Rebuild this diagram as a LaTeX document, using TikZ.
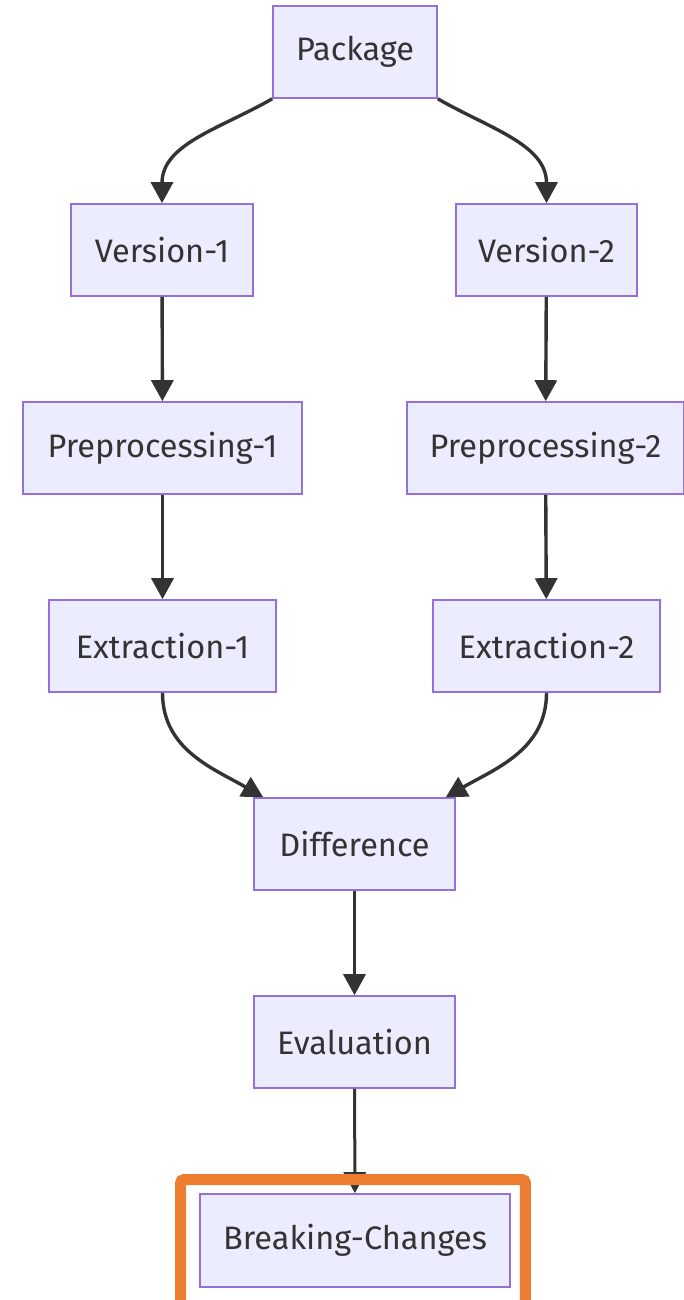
\documentclass[tikz,border=0pt]{standalone}
\usepackage{fontspec}
\setmainfont{Fira Sans}
\usetikzlibrary{arrows.meta}
\definecolor{boxfill}{HTML}{ECECFF}
\definecolor{boxline}{HTML}{9370DB}
\definecolor{ink}{HTML}{333333}
\definecolor{hilite}{HTML}{ED7D31}
\tikzset{
  stage/.style={draw=boxline, fill=boxfill, line width=1.6pt, text=ink,
    minimum height=92pt, inner sep=0pt, font=\fontsize{32.5}{36}\selectfont},
  flow/.style={draw=ink, line width=3.4pt, -{Triangle[length=21pt,width=22pt]}},
}
\begin{document}
\begin{tikzpicture}[x=1pt,y=-1pt]
\useasboundingbox (0,0) rectangle (684,1300);
\node[stage, minimum width=164pt] (pkg) at (355,52) {Package};
\node[stage, minimum width=182pt] (v1) at (162,250) {Version-1};
\node[stage, minimum width=181pt] (v2) at (546.5,250) {Version-2};
\node[stage, minimum width=279pt] (pre1) at (162.5,448) {Preprocessing-1};
\node[stage, minimum width=277pt] (pre2) at (545.5,448) {Preprocessing-2};
\node[stage, minimum width=227pt] (ex1) at (162.5,646) {Extraction-1};
\node[stage, minimum width=227pt] (ex2) at (546.5,646) {Extraction-2};
\node[stage, minimum width=201pt] (diff) at (354.5,844) {Difference};
\node[stage, minimum width=201pt] (eval) at (354.5,1042) {Evaluation};
\node[stage, minimum width=310pt, minimum height=93pt] (bc) at (355,1240.5) {Breaking-Changes};

\draw[flow] (pkg.south west) to[out=-150, in=90] (v1.north);
\draw[flow] (pkg.south east) to[out=-30, in=90] (v2.north);
\draw[flow] (v1) -- (pre1);
\draw[flow] (v2) -- (pre2);
\draw[flow] (pre1) -- (ex1);
\draw[flow] (pre2) -- (ex2);
\draw[flow] (ex1.south) to[out=-90, in=150] ([xshift=10pt]diff.north west);
\draw[flow] (ex2.south) to[out=-90, in=30] ([xshift=-10pt]diff.north east);
\draw[flow] (diff) -- (eval);
\draw[flow, line width=3pt] (eval) -- (bc);

% highlight frame around the final result
\draw[hilite, line width=11pt, rounded corners=3pt]
  ([xshift=-18.5pt,yshift=13.5pt]bc.north west) rectangle ([xshift=14.5pt,yshift=-30pt]bc.south east);
\end{tikzpicture}
\end{document}
